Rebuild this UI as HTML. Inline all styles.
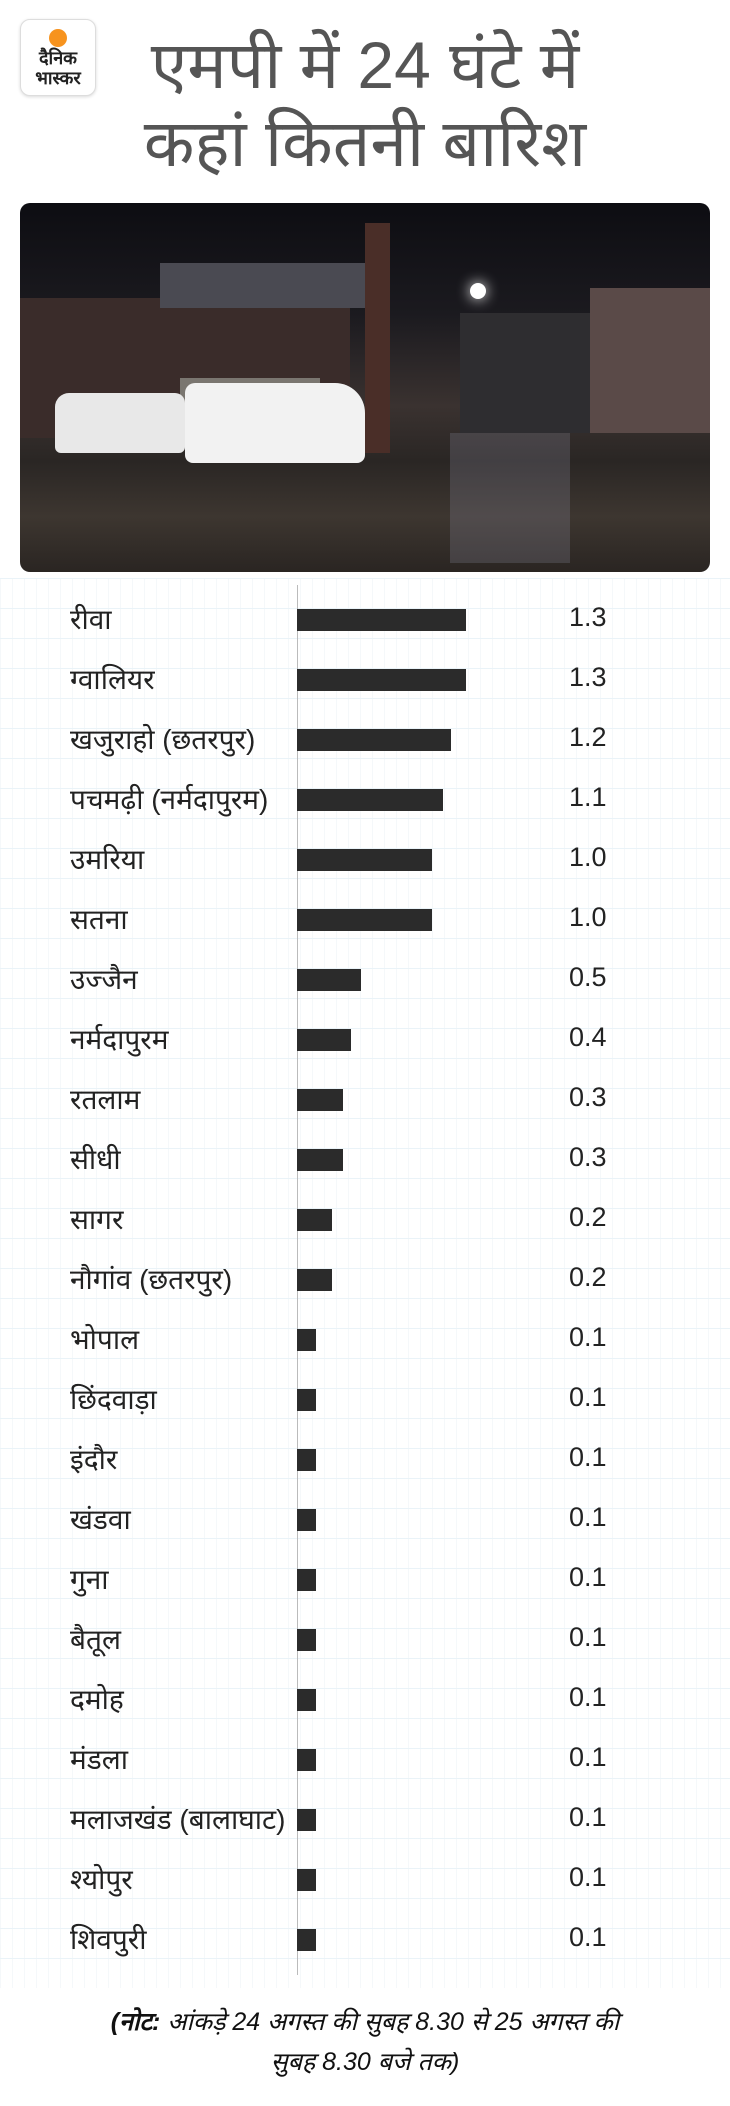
<!DOCTYPE html>
<html><head><meta charset="utf-8"><style>
*{margin:0;padding:0;box-sizing:border-box}
body{width:730px;height:2106px;background:#fff;position:relative;overflow:hidden;font-family:"Liberation Sans","Noto Sans CJK SC",sans-serif;color:#222}
.grid{position:absolute;left:0;top:578px;width:730px;height:1410px;
background-image:linear-gradient(#eaf3f8 1px,transparent 1px),linear-gradient(90deg,#f5f8fa 1px,transparent 1px);
background-size:100% 30px,12px 100%}
.logo{position:absolute;left:20px;top:19px;width:76px;height:77px;border:1px solid #ddd;border-radius:10px;background:#fff;box-shadow:0 1px 3px rgba(0,0,0,.15);text-align:center}
.logo .dot{width:18px;height:18px;border-radius:50%;background:#f7931e;margin:9px auto 1px}
.logo div.t{font-weight:bold;font-size:18px;line-height:20px;color:#222}
.title{position:absolute;left:0;width:730px;text-align:center;font-size:66px;color:#555;line-height:1}
.photo{position:absolute;left:20px;top:203px;width:690px;height:369px;border-radius:10px;overflow:hidden;
background:linear-gradient(180deg,#0d0d12 0%,#1b1a1f 30%,#3a3230 55%,#2a2624 70%,#3d3630 85%,#2a2522 100%)}
.row{position:absolute;left:0;width:730px;height:60px}
.lab{position:absolute;left:70px;top:-9px;font-size:28px}
.bar{position:absolute;left:297px;top:0;height:22px;background:#2b2b2b}
.val{position:absolute;left:569px;top:-7px;font-size:27px}
.axis{position:absolute;left:297px;top:585px;width:1px;height:1390px;background:#bbb}
.note{position:absolute;left:0;width:730px;text-align:center;font-size:25px;font-style:italic;color:#111}
</style></head><body>
<div class="grid"></div>
<div class="logo"><div class="dot"></div><div class="t">दैनिक</div><div class="t">भास्कर</div></div>
<div class="title" style="top:32px">एमपी में 24 घंटे में</div>
<div class="title" style="top:110px">कहां कितनी बारिश</div>
<div class="photo">
<div style="position:absolute;left:0;top:95px;width:330px;height:140px;background:#3a2c2a"></div>
<div style="position:absolute;left:140px;top:60px;width:210px;height:45px;background:#4a4a52"></div>
<div style="position:absolute;left:160px;top:175px;width:140px;height:60px;background:#7a7670"></div>
<div style="position:absolute;left:345px;top:20px;width:25px;height:230px;background:#4a2e28"></div>
<div style="position:absolute;left:440px;top:110px;width:130px;height:120px;background:#2e2d30"></div>
<div style="position:absolute;left:570px;top:85px;width:120px;height:145px;background:#5a4a48"></div>
<div style="position:absolute;left:450px;top:80px;width:16px;height:16px;border-radius:50%;background:#fff;box-shadow:0 0 14px #fff"></div>
<div style="position:absolute;left:35px;top:190px;width:130px;height:60px;border-radius:14px 10px 6px 6px;background:#e8e8e8"></div>
<div style="position:absolute;left:165px;top:180px;width:180px;height:80px;border-radius:10px 30px 8px 8px;background:#f2f2f2"></div>
<div style="position:absolute;left:430px;top:230px;width:120px;height:130px;background:rgba(140,140,160,.25)"></div>
</div>
<div class="axis"></div>
<div class="row" style="top:609px"><span class="lab">रीवा</span><div class="bar" style="width:169px"></div><span class="val">1.3</span></div>
<div class="row" style="top:669px"><span class="lab">ग्वालियर</span><div class="bar" style="width:169px"></div><span class="val">1.3</span></div>
<div class="row" style="top:729px"><span class="lab">खजुराहो (छतरपुर)</span><div class="bar" style="width:154px"></div><span class="val">1.2</span></div>
<div class="row" style="top:789px"><span class="lab">पचमढ़ी (नर्मदापुरम)</span><div class="bar" style="width:146px"></div><span class="val">1.1</span></div>
<div class="row" style="top:849px"><span class="lab">उमरिया</span><div class="bar" style="width:135px"></div><span class="val">1.0</span></div>
<div class="row" style="top:909px"><span class="lab">सतना</span><div class="bar" style="width:135px"></div><span class="val">1.0</span></div>
<div class="row" style="top:969px"><span class="lab">उज्जैन</span><div class="bar" style="width:64px"></div><span class="val">0.5</span></div>
<div class="row" style="top:1029px"><span class="lab">नर्मदापुरम</span><div class="bar" style="width:54px"></div><span class="val">0.4</span></div>
<div class="row" style="top:1089px"><span class="lab">रतलाम</span><div class="bar" style="width:46px"></div><span class="val">0.3</span></div>
<div class="row" style="top:1149px"><span class="lab">सीधी</span><div class="bar" style="width:46px"></div><span class="val">0.3</span></div>
<div class="row" style="top:1209px"><span class="lab">सागर</span><div class="bar" style="width:35px"></div><span class="val">0.2</span></div>
<div class="row" style="top:1269px"><span class="lab">नौगांव (छतरपुर)</span><div class="bar" style="width:35px"></div><span class="val">0.2</span></div>
<div class="row" style="top:1329px"><span class="lab">भोपाल</span><div class="bar" style="width:19px"></div><span class="val">0.1</span></div>
<div class="row" style="top:1389px"><span class="lab">छिंदवाड़ा</span><div class="bar" style="width:19px"></div><span class="val">0.1</span></div>
<div class="row" style="top:1449px"><span class="lab">इंदौर</span><div class="bar" style="width:19px"></div><span class="val">0.1</span></div>
<div class="row" style="top:1509px"><span class="lab">खंडवा</span><div class="bar" style="width:19px"></div><span class="val">0.1</span></div>
<div class="row" style="top:1569px"><span class="lab">गुना</span><div class="bar" style="width:19px"></div><span class="val">0.1</span></div>
<div class="row" style="top:1629px"><span class="lab">बैतूल</span><div class="bar" style="width:19px"></div><span class="val">0.1</span></div>
<div class="row" style="top:1689px"><span class="lab">दमोह</span><div class="bar" style="width:19px"></div><span class="val">0.1</span></div>
<div class="row" style="top:1749px"><span class="lab">मंडला</span><div class="bar" style="width:19px"></div><span class="val">0.1</span></div>
<div class="row" style="top:1809px"><span class="lab">मलाजखंड (बालाघाट)</span><div class="bar" style="width:19px"></div><span class="val">0.1</span></div>
<div class="row" style="top:1869px"><span class="lab">श्योपुर</span><div class="bar" style="width:19px"></div><span class="val">0.1</span></div>
<div class="row" style="top:1929px"><span class="lab">शिवपुरी</span><div class="bar" style="width:19px"></div><span class="val">0.1</span></div>
<div class="note" style="top:2004px"><b>(नोट:</b> आंकड़े 24 अगस्त की सुबह 8.30 से 25 अगस्त की</div>
<div class="note" style="top:2044px">सुबह 8.30 बजे तक)</div>
</body></html>
